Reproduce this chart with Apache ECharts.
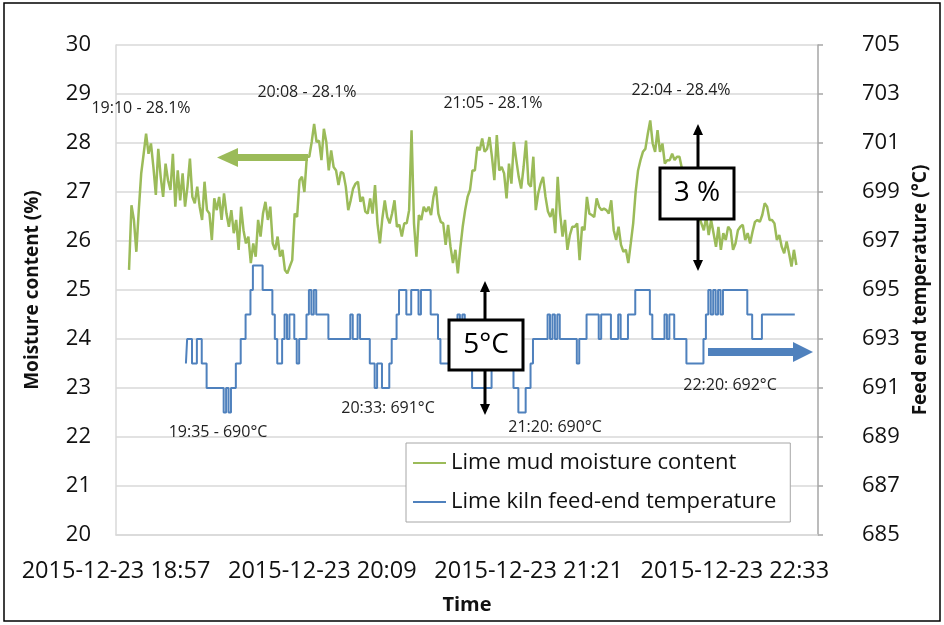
<!DOCTYPE html>
<html>
<head>
<meta charset="utf-8">
<script src="https://cdn.jsdelivr.net/npm/echarts@6/dist/echarts.min.js"></script>
<style>
  html, body { margin: 0; background: #fff; }
  #chart { width: 944px; height: 625px; }
</style>
</head>
<body>
<div id="chart"></div>
<script>
// time is in minutes after 2015-12-23 18:57
const axisEnd = 245;
const timeTicks = [0, 72, 144, 216];
const timeLabels = ['2015-12-23 18:57', '2015-12-23 20:09', '2015-12-23 21:21', '2015-12-23 22:33'];
const tempTicks = [685, 687, 689, 691, 693, 695, 697, 699, 701, 703, 705];

// logger interval (min) and first sample of each series
const sampleStep = 0.85;
const moistureStart = 4.55;
const tempStart = 24.4;

// lime mud moisture content (%)
const moisture = [
  25.41, 26.73, 26.43, 25.78, 26.63, 27.38, 27.78, 28.19, 27.78, 27.99,
  27.51, 26.94, 27.88, 27.31, 26.90, 27.58, 27.24, 27.04, 27.78, 26.70,
  27.44, 26.83, 27.38, 26.70, 27.11, 27.68, 26.90, 26.77, 27.11, 26.70,
  26.43, 27.21, 26.63, 26.56, 26.02, 26.87, 26.63, 26.90, 26.43, 26.97,
  26.56, 26.29, 26.63, 26.16, 26.43, 25.82, 26.70, 26.22, 25.95, 26.09,
  25.55, 25.95, 25.68, 26.43, 26.09, 26.56, 26.80, 26.43, 26.70, 25.95,
  25.82, 26.09, 25.68, 25.82, 25.41, 25.34, 25.48, 25.61, 26.56,
  26.49, 27.24, 27.31, 27.00, 27.72, 27.72, 28.02, 28.39, 28.02, 28.05,
  27.65, 28.29, 28.02, 27.44, 27.85, 27.51, 27.44, 27.14, 27.41, 27.38,
  27.11, 26.63, 26.83, 27.07, 27.17, 27.21, 26.80, 26.90, 26.60, 26.56,
  26.87, 26.56, 27.14, 26.36, 25.95, 26.46, 26.83, 26.49, 26.36, 26.56,
  26.83, 26.29, 26.33, 26.09, 26.36, 26.36, 26.63, 28.26, 26.36, 25.68,
  26.53, 26.43, 26.70, 26.60, 26.70, 26.53, 26.90, 27.11, 26.56, 26.39,
  26.36, 25.92, 26.33, 25.88, 25.55, 25.82, 25.34, 25.85, 26.29,
  26.63, 26.90, 27.04, 27.44, 27.44, 27.92, 27.85, 28.09, 27.82, 27.88,
  28.12, 27.72, 27.24, 28.16, 27.44, 27.51, 27.38, 26.87, 27.58, 27.17,
  28.02, 27.65, 27.31, 27.07, 27.51, 28.05, 27.17, 27.11, 27.72, 26.63,
  26.97, 27.17, 27.31, 26.90, 26.60, 26.49, 26.66, 26.16, 27.31, 26.56,
  26.09, 26.43, 25.82, 26.12, 26.29, 26.29, 26.36, 25.61, 26.29, 26.22,
  26.90, 26.56, 26.53, 26.49, 26.87, 26.70, 26.63, 26.66, 26.63, 26.56,
  26.83, 26.22, 26.02, 26.29, 25.92, 25.78, 25.82, 25.55, 25.95, 26.36,
  27.00, 27.44, 27.65, 27.82, 27.88, 28.19, 28.46, 27.99, 27.82, 28.26,
  27.82, 27.99, 27.58, 27.65, 27.65, 27.78, 27.65, 27.72, 27.72, 27.48,
  27.30, 27.35, 27.00, 27.20, 26.80, 26.90, 26.50, 26.36, 26.22, 26.49,
  26.12, 26.43, 26.16, 25.88, 26.29, 25.82, 26.16, 26.02, 26.29, 26.22,
  25.82, 25.95, 26.22, 26.29, 26.33, 26.02, 26.16, 25.95, 26.19, 26.39,
  26.43, 26.39, 26.53, 26.77, 26.70, 26.43, 26.43, 26.36, 26.02, 26.12,
  25.88, 25.75, 25.99, 25.75, 25.48, 25.82, 25.51
];

// lime kiln feed-end temperature (°C)
const kilnTemp = [
  692, 693, 693, 692, 692, 693, 693, 692, 692, 691,
  691, 691, 691, 691, 691, 691, 690, 691, 690, 691,
  691, 692, 692, 693, 693, 694, 694, 695, 696, 696,
  696, 696, 695, 695, 695, 695, 694, 693, 692, 692,
  693, 694, 693, 694, 694, 693, 692, 693, 693, 693,
  694, 695, 694, 695, 694, 694, 694, 694, 694, 693,
  693, 693, 693, 693, 693, 693, 693, 693, 694, 693,
  693, 694, 693, 693, 693, 693, 692, 692, 691, 692,
  692, 691, 691, 691, 692, 693, 693, 694, 695, 695,
  695, 694, 694, 695, 695, 695, 694, 695, 695, 695,
  695, 694, 694, 694, 693, 692, 692, 692, 692, 692,
  693, 693, 694, 693, 694, 693, 692, 692, 691, 691,
  691, 691, 691, 691, 691, 691, 692, 692, 693, 693,
  692, 692, 692, 692, 692, 691, 691, 690, 690, 690,
  691, 691, 692, 693, 693, 693, 693, 693, 693, 694,
  693, 694, 693, 694, 693, 693, 693, 693, 693, 693,
  693, 692, 693, 693, 693, 694, 694, 694, 694, 694,
  693, 694, 694, 694, 694, 693, 693, 693, 694, 693,
  693, 693, 694, 694, 694, 695, 695, 695, 695, 695,
  695, 694, 693, 693, 693, 693, 693, 694, 693, 694,
  694, 693, 693, 693, 693, 693, 692, 692, 692, 692,
  692, 692, 692, 693, 694, 695, 694, 695, 694, 695,
  694, 695, 695, 695, 695, 695, 695, 695, 695, 695,
  695, 694, 694, 693, 693, 693, 693, 694, 694, 694,
  694, 694, 694, 694, 694, 694, 694, 694, 694, 694,
  694
];

const seriesNames = ['Lime mud moisture content', 'Lime kiln feed-end temperature'];

const notes = [
  { text: '19:10 - 28.1%', x: 141, y: 108 },
  { text: '20:08 - 28.1%', x: 307, y: 92 },
  { text: '21:05 - 28.1%', x: 493, y: 103 },
  { text: '22:04 - 28.4%', x: 681, y: 90 },
  { text: '19:35 - 690°C', x: 218, y: 432 },
  { text: '20:33: 691°C', x: 388, y: 408 },
  { text: '21:20: 690°C', x: 555, y: 427 },
  { text: '22:20: 692°C', x: 730, y: 385 }
];

const font = 'Open Sans';
const green = '#9BBB59';
const blue = '#4F81BD';
const gridColor = '#d9d9d9';

var chart = echarts.init(document.getElementById('chart'));

const moistureData = moisture.map(function (v, i) { return [moistureStart + i * sampleStep, v]; });
const tempData = kilnTemp.map(function (v, i) { return [tempStart + i * sampleStep, v]; });

// double headed arrow through a value box
function vArrow(x, top, boxTop, boxBottom, bottom) {
  const st = { stroke: '#000', lineWidth: 3 };
  return [
    { type: 'line', z: 101, shape: { x1: x, y1: top + 10, x2: x, y2: boxTop }, style: st },
    { type: 'line', z: 101, shape: { x1: x, y1: boxBottom, x2: x, y2: bottom - 10 }, style: st },
    { type: 'polygon', z: 101, shape: { points: [[x, top], [x - 5, top + 11], [x + 5, top + 11]] }, style: { fill: '#000' } },
    { type: 'polygon', z: 101, shape: { points: [[x, bottom], [x - 5, bottom - 11], [x + 5, bottom - 11]] }, style: { fill: '#000' } }
  ];
}

function valueBox(x, y, w, h, text) {
  return [
    { type: 'rect', z: 102, shape: { x: x, y: y, width: w, height: h }, style: { fill: '#fff', stroke: '#000', lineWidth: 3 } },
    { type: 'text', z: 103, x: x + w / 2, y: y + h / 2, style: { text: text, fontFamily: font, fontSize: 28, fill: '#000', align: 'center', verticalAlign: 'middle' } }
  ];
}

var graphics = [
  { type: 'rect', z: 100, shape: { x: 4, y: 3, width: 936, height: 618 }, style: { fill: 'none', stroke: '#000', lineWidth: 1.5 } },
  // green arrow pointing to the left axis
  { type: 'rect', z: 100, shape: { x: 235, y: 154, width: 73, height: 7 }, style: { fill: green } },
  { type: 'polygon', z: 100, shape: { points: [[217, 157.5], [238, 148], [238, 167]] }, style: { fill: green } },
  // blue arrow pointing to the right axis
  { type: 'rect', z: 100, shape: { x: 708, y: 348, width: 87, height: 8 }, style: { fill: blue } },
  { type: 'polygon', z: 100, shape: { points: [[813, 352], [793, 342], [793, 362]] }, style: { fill: blue } }
];
graphics = graphics
  .concat(vArrow(698, 124, 168, 219, 271))
  .concat(valueBox(660, 168, 74, 51, '3 %'))
  .concat(vArrow(485, 281, 320, 370, 415))
  .concat(valueBox(449, 320, 74, 50, '5°C'));
notes.forEach(function (n) {
  graphics.push({ type: 'text', z: 100, x: n.x, y: n.y, style: { text: n.text, fontFamily: font, fontSize: 16, fill: '#222', align: 'center', verticalAlign: 'middle' } });
});

const option = {
  backgroundColor: '#fff',
  animation: false,
  grid: { left: 116, right: 126, top: 45, bottom: 90, containLabel: false, outerBoundsMode: 'none' },
  legend: {
    orient: 'vertical',
    left: 406,
    top: 443,
    icon: 'rect',
    itemWidth: 33,
    itemHeight: 2,
    itemGap: 17,
    padding: [9, 14, 9, 7],
    borderColor: '#a6a6a6',
    borderWidth: 1,
    backgroundColor: '#fff',
    textStyle: { fontFamily: font, fontSize: 22, color: '#111' },
    data: seriesNames
  },
  xAxis: {
    type: 'value',
    min: 0,
    max: axisEnd,
    name: 'Time',
    nameLocation: 'middle',
    nameGap: 60,
    nameTextStyle: { fontFamily: font, fontSize: 20, fontWeight: 'bold', color: '#111' },
    axisLine: { lineStyle: { color: gridColor, width: 1.5 } },
    axisTick: { show: false },
    splitLine: { show: false },
    axisLabel: {
      customValues: timeTicks,
      margin: 24,
      fontFamily: font,
      fontSize: 23.5,
      color: '#111',
      formatter: function (v) { return timeLabels[timeTicks.indexOf(v)]; }
    }
  },
  yAxis: [
    {
      type: 'value',
      min: 20,
      max: 30,
      interval: 1,
      name: 'Moisture content (%)',
      nameLocation: 'middle',
      nameRotate: 90,
      nameGap: 74,
      nameTextStyle: { fontFamily: font, fontSize: 19, fontWeight: 'bold', color: '#111' },
      axisLine: { show: true, lineStyle: { color: gridColor, width: 1.5 } },
      axisTick: { show: false },
      splitLine: { lineStyle: { color: gridColor, width: 1.5 } },
      axisLabel: { margin: 25, fontFamily: font, fontSize: 22, color: '#111' }
    },
    {
      type: 'value',
      position: 'right',
      min: 685,
      max: 705,
      name: 'Feed end temperature (°C)',
      nameLocation: 'middle',
      nameRotate: 90,
      nameGap: 90,
      nameTextStyle: { fontFamily: font, fontSize: 19, fontWeight: 'bold', color: '#111' },
      axisLine: { show: true, lineStyle: { color: '#a6a6a6', width: 1.5 } },
      axisTick: { show: true, inside: false, length: 5, customValues: tempTicks, lineStyle: { color: '#a6a6a6', width: 1.5 } },
      splitLine: { show: false },
      axisLabel: { customValues: tempTicks, margin: 44, fontFamily: font, fontSize: 22, color: '#111' }
    }
  ],
  series: [
    {
      name: seriesNames[0],
      type: 'line',
      yAxisIndex: 0,
      symbol: 'none',
      data: moistureData,
      lineStyle: { color: green, width: 2.5 },
      itemStyle: { color: green }
    },
    {
      name: seriesNames[1],
      type: 'line',
      yAxisIndex: 1,
      step: 'middle',
      symbol: 'none',
      data: tempData,
      lineStyle: { color: blue, width: 2 },
      itemStyle: { color: blue }
    }
  ],
  graphic: graphics
};

chart.setOption(option);
</script>
</body>
</html>
